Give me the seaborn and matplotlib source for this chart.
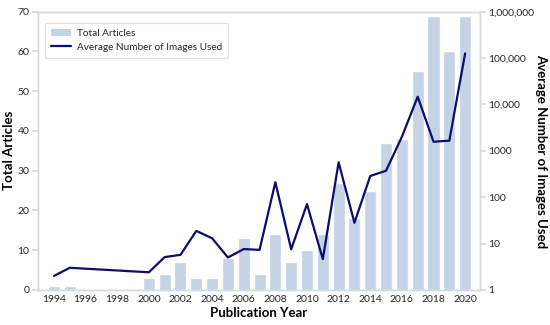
import numpy as np
import pandas as pd
import matplotlib
matplotlib.use("Agg")
import matplotlib.pyplot as plt
import seaborn as sns
from matplotlib.ticker import FixedLocator, FixedFormatter
from matplotlib.patches import Patch
from matplotlib.lines import Line2D

sns.set_theme(style="white")
plt.rcParams['font.family'] = ['Lato', 'DejaVu Sans']

years = list(range(1994, 2021))
total_articles = [1, 1, 0, 0, 0, 0, 3, 4, 7, 3, 3, 8, 13, 4, 14, 7, 10, 14,
                  27, 18, 25, 37, 38, 55, 69, 60, 69]
avg_images = [2.0, 3.0, np.nan, np.nan, np.nan, np.nan, 2.4, 5.1, 5.7, 18.7, 13,
              5.0, 7.6, 7.3, 210, 7.5, 71, 4.6, 565, 28, 286, 372, 2000, 14650,
              1570, 1650, 126000]
right_ticks = [1, 10, 100, 1000, 10000, 100000, 1000000]
right_tick_labels = ["1", "10", "100", "1000", "10,000", "100,000", "1,000,000"]
x_ticks = list(range(1994, 2021, 2))

bar_color = "#c5d3e5"
line_color = "#0d0d6b"
spine_color = "#d9d9d9"
text_color = "#262626"

df = pd.DataFrame({"year": years, "articles": total_articles, "images": avg_images})
dline = df.dropna()

fig = plt.figure(figsize=(5.5, 3.25), dpi=100)
ax = fig.add_axes([0.0685, 0.108, 0.873 - 0.0685, 0.964 - 0.108])
sns.barplot(data=df, x="year", y="articles", native_scale=True, color=bar_color,
            saturation=1, width=0.76, ax=ax)
ax.set_xlim(1992.97, 2020.95)
ax.set_ylim(0, 70)
ax.set_yticks(range(0, 71, 10))
ax.set_xticks(x_ticks)
ax.set_xticklabels([str(y) for y in x_ticks])
ax.set_xlabel("Publication Year", fontsize=9.5, fontweight="bold", color="black", labelpad=2)
ax.set_ylabel("Total Articles", fontsize=9.5, fontweight="bold", color="black", labelpad=2)

ax2 = ax.twinx()
sns.lineplot(data=dline, x="year", y="images", color=line_color, linewidth=1.6, ax=ax2)
ax2.set_yscale("log")
ax2.set_ylim(1, 1000000)
ax2.yaxis.set_major_locator(FixedLocator(right_ticks))
ax2.yaxis.set_major_formatter(FixedFormatter(right_tick_labels))
ax2.yaxis.set_minor_locator(FixedLocator([]))
ax2.set_ylabel("Average Number of Images Used", fontsize=9.5, fontweight="bold",
               color="black", rotation=270, labelpad=9)
ax2.set_xlim(1992.97, 2020.95)
ax2.set_xlabel("")

for a in (ax, ax2):
    for s in a.spines.values():
        s.set_color(spine_color)
        s.set_linewidth(1.0)
ax.tick_params(axis="y", which="both", length=4, color=spine_color, labelsize=7.5,
               labelcolor=text_color, pad=2, left=True)
ax.tick_params(axis="x", length=0, labelsize=7.5, labelcolor=text_color, pad=4)
ax2.tick_params(axis="y", which="major", length=4, color=spine_color, labelsize=7.5,
                labelcolor=text_color, pad=2, right=True)

handles = [Patch(facecolor=bar_color, edgecolor="none"),
           Line2D([0], [0], color=line_color, linewidth=1.6)]
leg = ax2.legend(handles, ["Total Articles", "Average Number of Images Used"],
                 loc="upper left", bbox_to_anchor=(0.0165, 0.96), borderaxespad=0,
                 fontsize=7.2, frameon=True, fancybox=True, edgecolor="#d9d9d9",
                 handlelength=2.0, handletextpad=0.6, labelspacing=0.5, borderpad=0.6)
leg.get_frame().set_linewidth(0.8)
for t in leg.get_texts():
    t.set_color(text_color)

fig.savefig("out.png", dpi=100)
